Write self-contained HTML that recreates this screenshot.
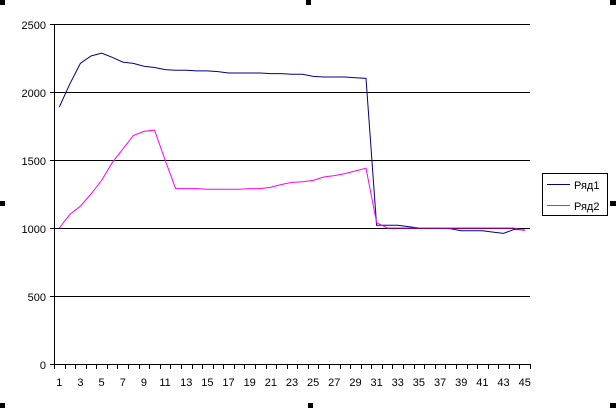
<!DOCTYPE html>
<html><head><meta charset="utf-8"><style>
html,body{margin:0;padding:0;background:#fff;}
svg{display:block;font-family:"Liberation Sans",Arial,sans-serif;}
</style></head><body>
<svg width="616" height="408" viewBox="0 0 616 408" xmlns="http://www.w3.org/2000/svg">
<g fill="#000">
<rect x="0" y="0" width="5" height="5"/><rect x="306" y="0" width="5" height="5"/><rect x="610" y="0" width="6" height="5"/>
<rect x="0" y="201" width="5" height="5"/><rect x="610" y="201" width="6" height="5"/>
<rect x="0" y="403" width="5" height="5"/><rect x="308" y="403" width="5" height="5"/><rect x="610" y="403" width="6" height="5"/>
</g>
<g stroke="#000" stroke-width="1" shape-rendering="crispEdges">
<line x1="54" y1="24.5" x2="530" y2="24.5"/>
<line x1="54" y1="92.5" x2="530" y2="92.5"/>
<line x1="54" y1="160.5" x2="530" y2="160.5"/>
<line x1="54" y1="228.5" x2="530" y2="228.5"/>
<line x1="54" y1="296.5" x2="530" y2="296.5"/>
<line x1="54" y1="364.5" x2="530" y2="364.5"/>
<line x1="54.5" y1="24" x2="54.5" y2="365"/>
<line x1="50" y1="24.5" x2="54" y2="24.5"/><line x1="50" y1="92.5" x2="54" y2="92.5"/><line x1="50" y1="160.5" x2="54" y2="160.5"/><line x1="50" y1="228.5" x2="54" y2="228.5"/><line x1="50" y1="296.5" x2="54" y2="296.5"/><line x1="50" y1="364.5" x2="54" y2="364.5"/>
</g>
<g id="ticks" stroke="#000" shape-rendering="crispEdges"></g>
<g font-size="11" text-anchor="end" fill="#000">
<text x="46" y="29">2500</text><text x="46" y="97">2000</text><text x="46" y="165">1500</text><text x="46" y="233">1000</text><text x="46" y="301">500</text><text x="46" y="369">0</text>
</g>
<g id="xl" font-size="11" text-anchor="middle" fill="#000"></g>
<polyline id="s1" fill="none" stroke="#000080" stroke-width="1"/>
<polyline id="s2" fill="none" stroke="#ff00ff" stroke-width="1"/>
<rect x="542.5" y="173.5" width="65" height="42" fill="#fff" stroke="#000"/>
<line x1="547" y1="184.5" x2="570" y2="184.5" stroke="#000080"/>
<line x1="547" y1="205.5" x2="570" y2="205.5" stroke="#ff00ff"/>
<text x="574" y="189" font-size="11">Ряд1</text>
<text x="574" y="210" font-size="11">Ряд2</text>
</svg>
<script>
var w=(530-54)/45, ns="http://www.w3.org/2000/svg";
function X(i){return 54+(i-0.5)*w;}
function Y(v){return 364-v*0.136;}
var tk=document.getElementById('ticks'),xl=document.getElementById('xl');
for(var i=0;i<=45;i++){var l=document.createElementNS(ns,'line');var x=Math.round(54+i*w)+0.5;l.setAttribute('x1',x);l.setAttribute('x2',x);l.setAttribute('y1',364);l.setAttribute('y2',369);tk.appendChild(l);}
for(var i=1;i<=45;i+=2){var t=document.createElementNS(ns,'text');t.setAttribute('x',X(i));t.setAttribute('y',386);t.textContent=i;xl.appendChild(t);}
var a=[1890,2060,2210,2265,2285,2255,2220,2210,2190,2180,2165,2160,2160,2155,2155,2150,2140,2140,2140,2140,2135,2135,2130,2130,2115,2110,2110,2110,2105,2100,1020,1020,1020,1010,1000,1000,1000,995,980,980,980,970,960,990,985];
var b=[1000,1100,1160,1250,1350,1480,1580,1680,1710,1720,1500,1290,1290,1290,1285,1285,1285,1285,1290,1290,1300,1320,1335,1340,1350,1375,1385,1400,1420,1440,1040,1000,1000,1000,1000,1000,1000,1000,1000,1000,1000,1000,1000,1000,980];
function pts(d){return d.map(function(v,i){return X(i+1).toFixed(1)+','+Y(v).toFixed(1);}).join(' ');}
document.getElementById('s1').setAttribute('points',pts(a));
document.getElementById('s2').setAttribute('points',pts(b));
</script>
</body></html>
